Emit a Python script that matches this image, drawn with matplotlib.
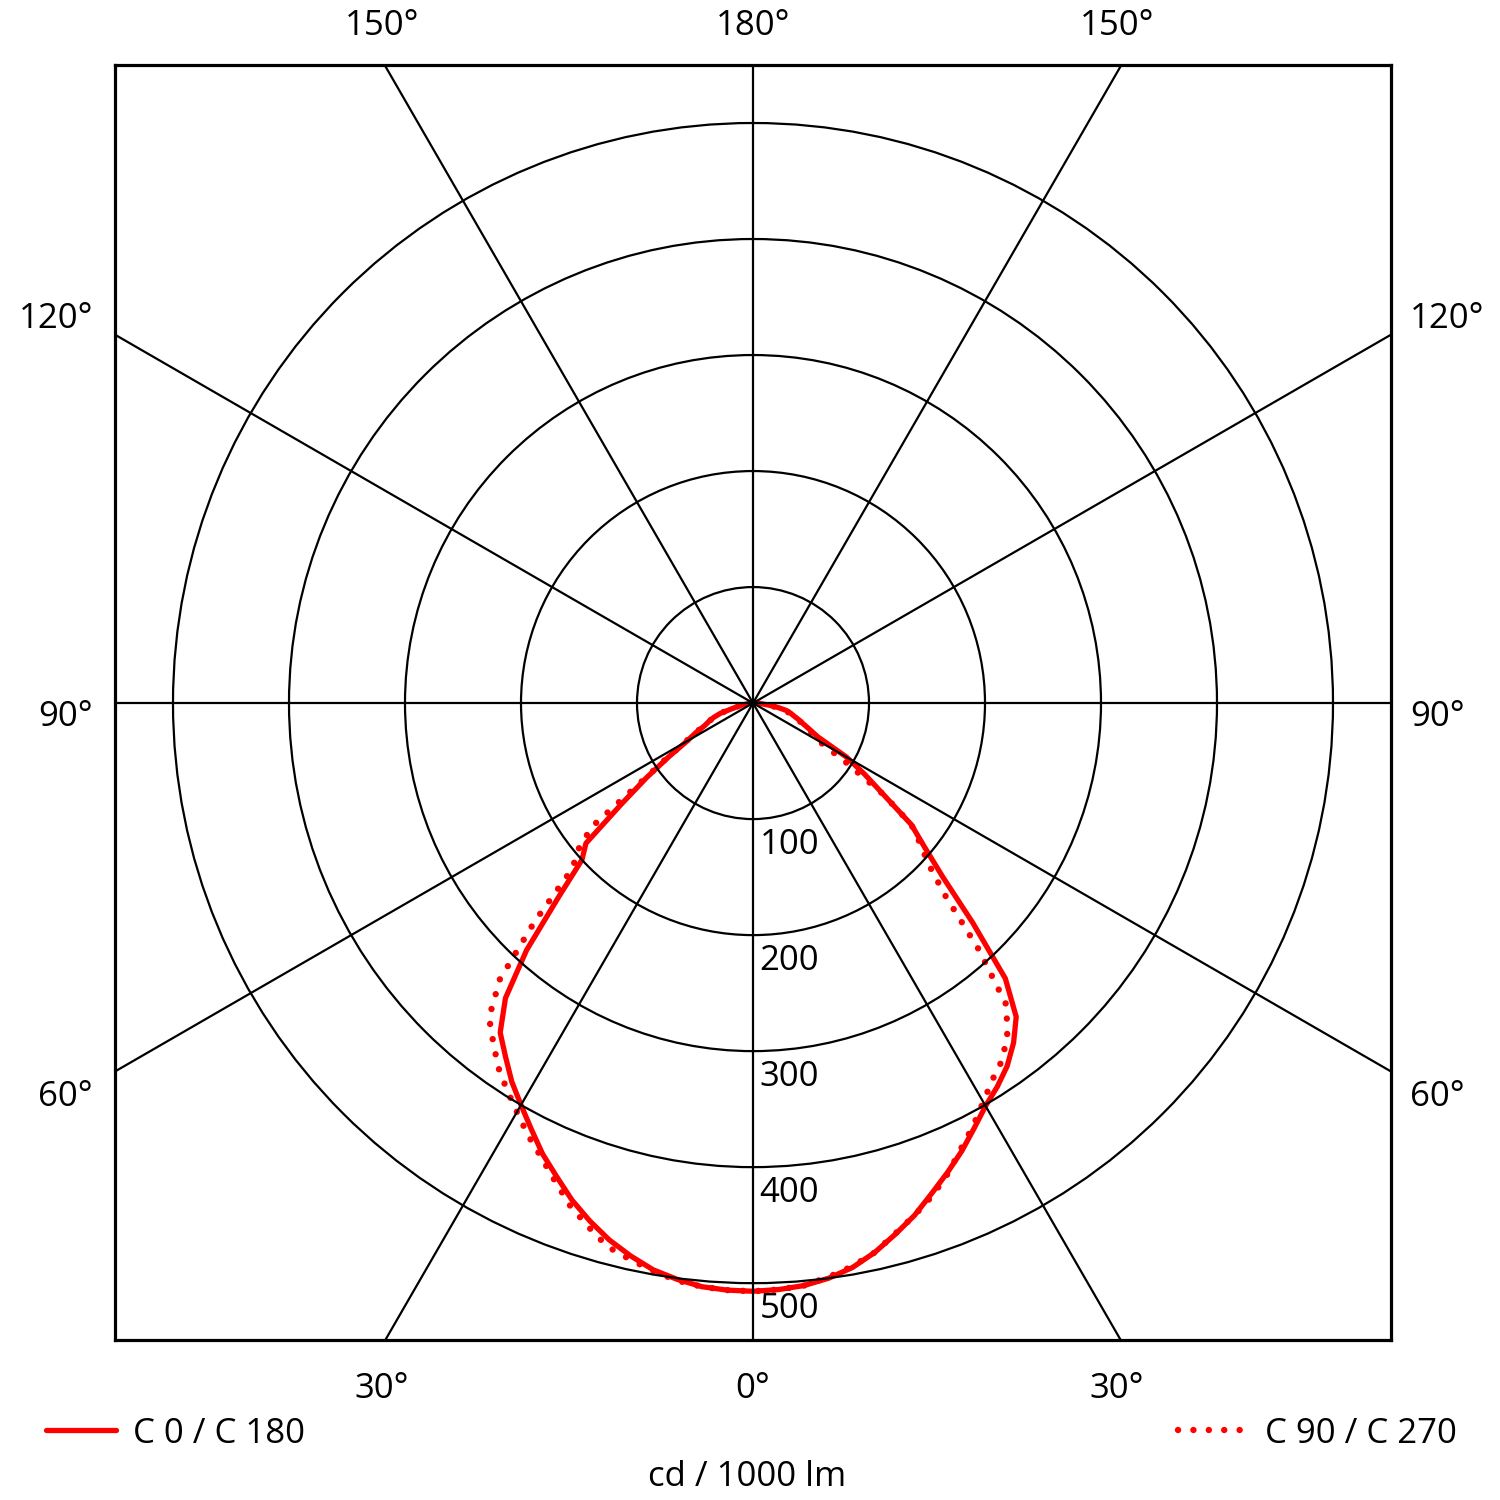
import numpy as np
import matplotlib
matplotlib.use("Agg")
import matplotlib.pyplot as plt
from matplotlib.lines import Line2D
from matplotlib.patches import Circle

plt.rcParams['font.family'] = ['Open Sans', 'DejaVu Sans']

# gamma angles (deg, 0 = straight down)
gamma = [0, 2.5, 5, 7.5, 10, 12.5, 15, 17.5, 20, 22.5, 25, 27.5, 30, 32.5, 35, 37.5,
         40, 42.5, 45, 47.5, 50, 52.5, 55, 57.5, 60, 62.5, 65, 67.5, 70, 72.5, 75,
         77.5, 80, 82.5, 85, 87.5, 90]

# luminous intensity, cd / 1000 lm
c0 = [507, 506, 504, 500, 494, 485, 474, 463, 450, 438, 426, 413, 401, 392, 382, 369,
      353, 322, 268, 222, 193, 172, 137, 114, 93, 63, 54, 47, 42, 37, 33.5,
      29.5, 22, 14, 8, 4, 0]
c180 = [507, 506.5, 505, 501, 496, 488, 479, 468, 456, 442, 429, 414, 400, 387, 372, 358,
        332, 289, 238, 200, 188, 143, 112, 86, 66, 56, 46, 41, 36, 29.5, 19,
        13, 9, 6, 3.5, 1.5, 0]
c90 = [507, 506, 504, 499, 493, 485, 473.5, 463, 452, 439, 424, 411, 397, 384.5, 375, 360,
       340, 288, 234, 205, 188, 172, 137, 95, 66, 58, 52, 46, 41, 36, 32,
       28, 21, 13, 8, 4, 0]
c270 = [507, 506.5, 505, 502, 497, 491, 485, 473, 461, 446, 432, 420, 407, 395, 383, 368,
        354, 323, 266, 211, 197, 175, 115, 88, 68, 57, 47, 41, 36, 30, 20,
        14, 10, 6, 4, 2, 0]

ring_values = [100, 200, 300, 400, 500]
ray_angles = [0, 30, 60, 90, 120, 150]
top_labels = ["150°", "180°", "150°"]
side_labels = ["120°", "90°", "60°"]
bottom_labels = ["30°", "0°", "30°"]
legend_labels = ["C 0 / C 180", "C 90 / C 270"]
unit_label = "cd / 1000 lm"

RED = "#ff0000"
FS = 25
DOTS = (0, (0.01, 2.4))
DOT_LW = 4.6

fig = plt.figure(figsize=(15, 15), dpi=100)
W = H = 1500.0
left, right, top, bottom = 115, 1391, 65, 1340
ax = fig.add_axes([left / W, 1 - bottom / H, (right - left) / W, (bottom - top) / H])
ax.set_xlim(-550, 550)
ax.set_ylim(-549, 550)
ax.set_xticks([])
ax.set_yticks([])
for s in ax.spines.values():
    s.set_linewidth(2.3)
    s.set_color("black")
    s.set_zorder(10)


def xy(vals, side):
    g = np.radians(np.asarray(gamma, float))
    r = np.asarray(vals, float)
    return side * r * np.sin(g), -r * np.cos(g)


# curves
xl, yl = xy(c180, -1)
xr, yr = xy(c0, 1)
ax.plot(np.concatenate([xl[::-1], xr]), np.concatenate([yl[::-1], yr]),
        color=RED, lw=3.8, solid_capstyle="round", solid_joinstyle="round", zorder=3)
xl, yl = xy(c270, -1)
xr, yr = xy(c90, 1)
ax.plot(np.concatenate([xl[::-1], xr]), np.concatenate([yl[::-1], yr]),
        color=RED, lw=DOT_LW, linestyle=DOTS, dash_capstyle="round", zorder=3)

# grid
for rv in ring_values:
    ax.add_patch(Circle((0, 0), rv, fill=False, ec="black", lw=1.6, zorder=5))
for a in ray_angles:
    t = np.radians(a)
    L = 1000
    ax.plot([-L * np.sin(t), L * np.sin(t)], [L * np.cos(t), -L * np.cos(t)],
            color="black", lw=1.6, zorder=5)

for rv in ring_values:
    ax.text(5.5, -rv - 22.5, str(rv), ha="left", va="center", fontsize=FS, zorder=6)


def ftext(x, y, s, ha="center", va="center"):
    fig.text(x / W, 1 - (y + 4) / H, s, ha=ha, va=va, fontsize=FS)


for x, s in zip([382, 753, 1117], top_labels):
    ftext(x, 22, s)
for x, s in zip([382, 753, 1117], bottom_labels):
    ftext(x, 1385, s)
for y, s in zip([315, 713, 1093], side_labels):
    ftext(93, y, s, ha="right")
    ftext(1410, y, s, ha="left")

# legend
fig.add_artist(Line2D([46 / W, 116 / W], [1 - 1430 / H] * 2, color=RED, lw=3.8,
                      solid_capstyle="round"))
ftext(133, 1430, legend_labels[0], ha="left")
fig.add_artist(Line2D([1178 / W, 1240 / W], [1 - 1430 / H] * 2, color=RED, lw=DOT_LW,
                      linestyle=DOTS, dash_capstyle="round"))
ftext(1265, 1430, legend_labels[1], ha="left")
ftext(747, 1473, unit_label)

fig.savefig("out.png", dpi=100)
